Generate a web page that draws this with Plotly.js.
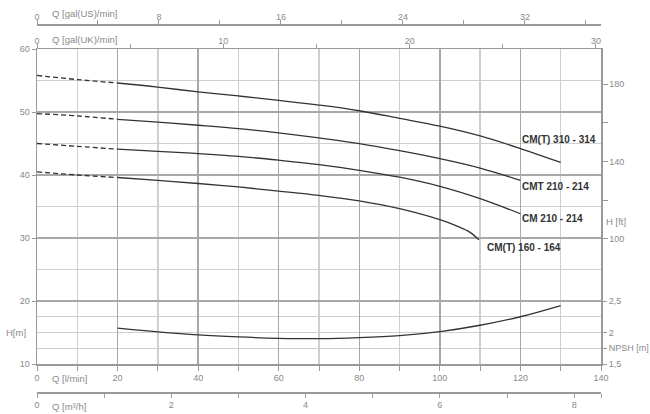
<!DOCTYPE html>
<html>
<head>
<meta charset="utf-8">
<script src="https://cdn.plot.ly/plotly-3.0.1.min.js"></script>
<style>html,body{margin:0;padding:0;background:#fff;}#chart{width:650px;height:414px;}</style>
</head>
<body>
<div id="chart"></div>
<script>
// ---- data (flow in l/min, head in m) ----
const qSolid310 = [20, 30, 40, 50, 60, 70, 80, 90, 100, 110, 120, 130];
const hSolid310 = [54.6, 53.95, 53.2, 52.55, 51.86, 51.1, 50.2, 49.0, 47.75, 46.2, 44.2, 42.0];
const qSolidCMT210 = [20, 30, 40, 50, 60, 70, 80, 90, 100, 110, 120];
const hSolidCMT210 = [48.84, 48.4, 47.9, 47.36, 46.68, 45.88, 44.98, 43.86, 42.6, 41.1, 39.15];
const qSolidCM210 = [20, 30, 40, 50, 60, 70, 80, 90, 100, 110, 120];
const hSolidCM210 = [44.1, 43.75, 43.4, 42.96, 42.35, 41.65, 40.75, 39.65, 38.2, 36.25, 33.85];
const qSolid160 = [20, 30, 40, 50, 60, 70, 80, 90, 100, 104, 107.5, 109.7];
const hSolid160 = [39.6, 39.15, 38.65, 38.1, 37.45, 36.76, 35.9, 34.65, 32.9, 31.95, 30.9, 29.7];

const qDashed = [0, 10, 20];
const hDashed310 = [55.8, 55.15, 54.6];
const hDashedCMT210 = [49.75, 49.38, 48.84];
const hDashedCM210 = [45.0, 44.55, 44.1];
const hDashed160 = [40.5, 40.0, 39.6];

const qNPSH = [20, 30, 40, 50, 60, 70, 80, 90, 100, 110, 120, 130];
const npsh = [2.068, 2.009, 1.961, 1.929, 1.908, 1.902, 1.918, 1.95, 2.014, 2.115, 2.25, 2.427];

const seriesNames = ['CM(T) 310 - 314', 'CMT 210 - 214', 'CM 210 - 214', 'CM(T) 160 - 164'];
const labelQ = [120, 120, 120, 111.2];
const labelH = [45.6, 38.2, 33.05, 28.5];

// axis tick values / labels
const lminTicks = [0, 20, 40, 60, 80, 100, 120, 140];
const hTicks = [10, 20, 30, 40, 50, 60];
const hMinorGrid = [12.5, 15, 17.5, 25, 35, 45, 55];
const ftTickVals = [100, 120, 140, 160, 180];
const ftTickText = ['100', '', '140', '', '180'];
const npshTickVals = [1.5, 1.75, 2, 2.5];
const npshTickText = ['1,5', 'NPSH [m]', '2', '2,5'];
const usTickVals = [0, 4, 8, 12, 16, 20, 24, 28, 32, 36];
const usTickText = ['0', '', '8', '', '16', '', '24', '', '32', ''];
const ukTickVals = [0, 5, 10, 15, 20, 25, 30];
const ukTickText = ['0', '', '10', '', '20', '', '30'];
const m3TickVals = [0, 1, 2, 3, 4, 5, 6, 7, 8, 8.4];
const m3TickText = ['0', '', '2', '', '4', '', '6', '', '8', ''];

// ---- styling ----
const curveColor = '#333333';
const axisColor = '#9a9a9a';
const gridMajor = '#a8a8a8';
const gridMinor = '#cfcfcf';
const tickFont = {family: 'Liberation Sans, Arial, sans-serif', size: 9, color: '#8a8a8a'};

const solid = [[qSolid310, hSolid310], [qSolidCMT210, hSolidCMT210], [qSolidCM210, hSolidCM210], [qSolid160, hSolid160]];
const dashed = [hDashed310, hDashedCMT210, hDashedCM210, hDashed160];

const traces = [];
solid.forEach((s, i) => {
  traces.push({x: s[0], y: s[1], type: 'scatter', mode: 'lines', name: seriesNames[i],
    line: {color: curveColor, width: 1.3, shape: 'spline', smoothing: 1}, hoverinfo: 'skip'});
  traces.push({x: qDashed, y: dashed[i], type: 'scatter', mode: 'lines',
    line: {color: curveColor, width: 1.3, dash: '5px,3px', shape: 'spline', smoothing: 1}, hoverinfo: 'skip'});
});
traces.push({x: qNPSH, y: npsh, type: 'scatter', mode: 'lines', yaxis: 'y3', name: 'NPSH',
  line: {color: curveColor, width: 1.3, shape: 'spline', smoothing: 1}, hoverinfo: 'skip'});
// invisible traces to activate extra axes
traces.push({x: [0], y: [100], yaxis: 'y2', mode: 'markers', marker: {opacity: 0}, hoverinfo: 'skip'});
traces.push({x: [0], y: [50], xaxis: 'x2', mode: 'markers', marker: {opacity: 0}, hoverinfo: 'skip'});
traces.push({x: [0], y: [50], xaxis: 'x3', mode: 'markers', marker: {opacity: 0}, hoverinfo: 'skip'});
traces.push({x: [0], y: [50], xaxis: 'x4', mode: 'markers', marker: {opacity: 0}, hoverinfo: 'skip'});

const L = 37, R = 601, T = 24, B = 392, plotTop = 49, plotBot = 364;
const H = B - T;
const yDom = [(B - plotBot) / H, (B - plotTop) / H];
const px = v => (v - L) / (R - L);
const py = v => (B - v) / H;

const annFont = {family: 'Liberation Sans, Arial, sans-serif', size: 9.5, color: '#8a8a8a'};
const annotations = [
  {text: 'H[m]', xref: 'paper', yref: 'paper', x: px(28), y: py(332), xanchor: 'right', yanchor: 'middle', showarrow: false, font: annFont},
  {text: 'Q [l/min]', xref: 'paper', yref: 'paper', x: px(50), y: py(378), xanchor: 'left', yanchor: 'middle', showarrow: false, font: annFont},
  {text: 'Q [m³/h]', xref: 'paper', yref: 'paper', x: px(50), y: py(407), xanchor: 'left', yanchor: 'middle', showarrow: false, font: annFont},
  {text: 'Q [gal(US)/min]', xref: 'paper', yref: 'paper', x: px(50), y: py(14), xanchor: 'left', yanchor: 'middle', showarrow: false, font: annFont},
  {text: 'Q [gal(UK)/min]', xref: 'paper', yref: 'paper', x: px(50), y: py(39.5), xanchor: 'left', yanchor: 'middle', showarrow: false, font: annFont},
  {text: 'H [ft]', xref: 'paper', yref: 'paper', x: px(604), y: py(221), xanchor: 'left', yanchor: 'middle', showarrow: false, font: annFont}
];
seriesNames.forEach((n, i) => {
  annotations.push({text: n, xref: 'x', yref: 'y', x: labelQ[i], y: labelH[i], xanchor: 'left', yanchor: 'middle',
    showarrow: false, font: {family: 'Liberation Sans, Arial, sans-serif', size: 10, color: '#333', weight: 'bold'}});
});

const layout = {
  width: 650, height: 414,
  margin: {l: L, r: 650 - R, t: T, b: 414 - B, pad: 0},
  paper_bgcolor: '#fff', plot_bgcolor: '#fff',
  showlegend: false,
  font: tickFont,
  xaxis: {
    range: [0, 140], domain: [0, 1], anchor: 'y', side: 'bottom',
    tickmode: 'array', tickvals: lminTicks, ticks: 'outside', ticklen: 5, tickcolor: axisColor, tickwidth: 1,
    showline: true, linecolor: axisColor, linewidth: 1.5,
    showgrid: true, gridcolor: gridMajor, gridwidth: 1.3, zeroline: false,
    minor: {dtick: 10, tick0: 0, ticks: 'outside', ticklen: 5, tickcolor: axisColor, showgrid: true, gridcolor: gridMinor, gridwidth: 1.3},
    tickfont: tickFont, fixedrange: true
  },
  yaxis: {
    range: [10, 60], domain: yDom, anchor: 'x',
    tickmode: 'array', tickvals: hTicks, ticks: 'outside', ticklen: 4, tickcolor: axisColor,
    showline: true, linecolor: axisColor, linewidth: 1.5,
    showgrid: true, gridcolor: gridMajor, gridwidth: 1.3, zeroline: false,
    minor: {tickmode: 'array', tickvals: hMinorGrid, ticks: '', showgrid: true, gridcolor: gridMinor, gridwidth: 1.3},
    tickfont: tickFont, fixedrange: true
  },
  yaxis2: {
    range: [35.4, 198.1], overlaying: 'y', side: 'right', anchor: 'x',
    tickmode: 'array', tickvals: ftTickVals, ticktext: ftTickText, ticks: 'outside', ticklen: 5, tickcolor: axisColor,
    showline: true, linecolor: axisColor, linewidth: 1.5, showgrid: false, zeroline: false,
    tickfont: tickFont, fixedrange: true
  },
  yaxis3: {
    range: [1.5, 6.5], overlaying: 'y', side: 'right', anchor: 'x',
    tickmode: 'array', tickvals: npshTickVals, ticktext: npshTickText, ticks: 'outside', ticklen: 5, tickcolor: axisColor,
    showline: false, showgrid: false, zeroline: false,
    tickfont: tickFont, fixedrange: true
  },
  xaxis2: {
    range: [0, 140 / 3.785], overlaying: 'x', anchor: 'free', position: 1, side: 'top',
    tickmode: 'array', tickvals: usTickVals, ticktext: usTickText, ticks: 'outside', ticklen: 4, tickcolor: axisColor,
    showline: true, linecolor: axisColor, linewidth: 1.5, showgrid: false, zeroline: false,
    ticklabelstandoff: -4,
    tickfont: tickFont, fixedrange: true
  },
  xaxis3: {
    range: [0, 30.27], overlaying: 'x', anchor: 'y', side: 'top',
    tickmode: 'array', tickvals: ukTickVals, ticktext: ukTickText, ticks: 'outside', ticklen: 4, tickcolor: axisColor,
    showline: true, linecolor: axisColor, linewidth: 1.5, showgrid: false, zeroline: false,
    ticklabelstandoff: -4,
    tickfont: tickFont, fixedrange: true
  },
  xaxis4: {
    range: [0, 8.4], overlaying: 'x', anchor: 'free', position: 0, side: 'bottom',
    tickmode: 'array', tickvals: m3TickVals, ticktext: m3TickText, ticks: 'outside', ticklen: 4, tickcolor: axisColor,
    showline: true, linecolor: axisColor, linewidth: 1.5, showgrid: false, zeroline: false,
    tickfont: tickFont, fixedrange: true
  },
  annotations: annotations
};

Plotly.newPlot('chart', traces, layout, {staticPlot: true, displayModeBar: false});
</script>
</body>
</html>
